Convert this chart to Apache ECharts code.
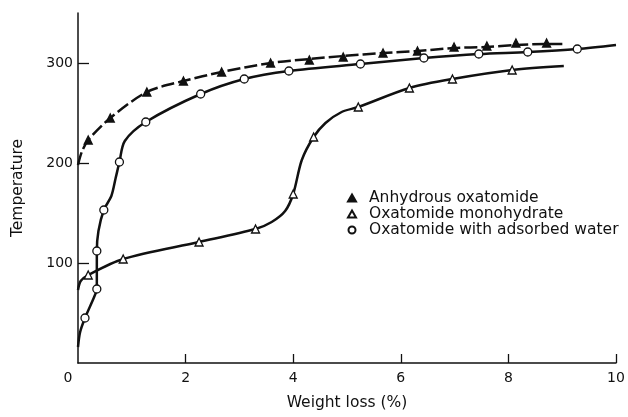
<!DOCTYPE html>
<html>
<head>
<meta charset="utf-8">
<script src="https://cdn.jsdelivr.net/npm/echarts@6/dist/echarts.min.js"></script>
<style>
  html, body { margin: 0; padding: 0; background: #fff; }
  #chart { width: 628px; height: 417px; }
</style>
</head>
<body>
<div id="chart"></div>
<script>
// tick labels
const xTicks = [0, 2, 4, 6, 8, 10]
const yTicks = [100, 200, 300]

// series names
const names = ['Anhydrous oxatomide', 'Oxatomide monohydrate', 'Oxatomide with adsorbed water']

// measured points (weight loss %, temperature)
const anhydrousPts = [[0.19, 223], [0.6, 245], [1.28, 271], [1.96, 282], [2.67, 291], [3.58, 300], [4.3, 303],
  [4.93, 306], [5.67, 310], [6.31, 312], [6.99, 316], [7.6, 317], [8.14, 320], [8.71, 320]]
const monohydratePts = [[0.19, 88], [0.84, 104], [2.25, 121], [3.3, 134], [4.0, 169], [4.38, 226], [5.21, 256],
  [6.16, 275], [6.96, 284], [8.07, 293]]
const adsorbedPts = [[0.13, 45], [0.35, 74], [0.35, 112], [0.48, 153], [0.77, 201], [1.26, 241], [2.28, 269],
  [3.09, 284], [3.92, 292], [5.25, 299], [6.43, 305], [7.45, 309], [8.36, 311], [9.28, 314]]

// drawn curves (pass through the points above)
const anhydrousCurve = [[0, 198], [0.07, 211], [0.19, 223], [0.6, 245], [1.28, 271], [1.96, 282], [2.67, 291],
  [3.58, 300], [4.3, 304], [4.93, 307], [5.67, 310], [6.31, 312], [6.99, 315], [7.6, 316], [8.14, 318], [8.71, 319], [9.05, 319]]
const monohydrateCurve = [[0, 73], [0.05, 82], [0.19, 88], [0.84, 104], [2.25, 121], [3.3, 134], [3.6, 141],
  [3.85, 152], [4.0, 169], [4.16, 203], [4.38, 226], [4.6, 240], [4.9, 251], [5.21, 256], [6.16, 275],
  [6.96, 284], [8.07, 293], [9.03, 297]]
const adsorbedCurve = [[0, 16], [0.04, 31], [0.13, 45], [0.3, 66], [0.35, 74], [0.35, 112], [0.38, 132],
  [0.48, 153], [0.62, 167], [0.7, 185], [0.77, 201], [0.87, 222], [1.26, 241], [2.28, 269], [3.09, 284],
  [3.92, 292], [5.25, 299], [6.43, 305], [7.45, 309], [8.36, 311], [9.28, 314], [10, 318]]

const font = 'DejaVu Sans'
const ink = '#111'

const chart = echarts.init(document.getElementById('chart'))

const curve = (data, dashed) => ({
  type: 'line',
  data: data,
  smooth: 0.3,
  showSymbol: false,
  silent: true,
  lineStyle: { color: ink, width: 2.5, type: dashed ? [13, 4] : 'solid' },
  z: 2
})

const marks = (name, data, symbol, filled) => ({
  name: name,
  type: 'scatter',
  data: data,
  symbol: symbol,
  symbolSize: 8,
  itemStyle: { color: filled ? ink : '#fff', borderColor: ink, borderWidth: 1.3, opacity: 1 },
  z: 3
})

const option = {
  animation: false,
  backgroundColor: '#fff',
  grid: { left: 78, right: 12, top: 13, bottom: 54, outerBoundsMode: 'none' },
  legend: {
    orient: 'vertical',
    left: 342,
    top: 185,
    itemWidth: 8,
    itemHeight: 7,
    itemGap: 0,
    data: names,
    textStyle: { fontFamily: font, fontSize: 15.5, color: ink, lineHeight: 16, padding: [0, 0, 0, 8] }
  },
  xAxis: {
    type: 'value',
    min: 0,
    max: 10,
    interval: 2,
    name: 'Weight loss (%)',
    nameLocation: 'middle',
    nameGap: 32,
    nameTextStyle: { fontFamily: font, fontSize: 15.5, color: ink },
    axisLine: { lineStyle: { color: ink, width: 1.5 } },
    axisTick: { inside: true, length: 9, customValues: xTicks.filter(v => v > 0), lineStyle: { color: ink, width: 1.3 } },
    axisLabel: {
      customValues: xTicks,
      margin: 8,
      fontFamily: font,
      fontSize: 14,
      color: ink,
      formatter: v => v === 0 ? '{z|0}' : String(v),
      rich: { z: { fontFamily: font, fontSize: 14, color: ink, padding: [0, 20, 0, 0] } }
    },
    splitLine: { show: false }
  },
  yAxis: {
    type: 'value',
    min: 0,
    max: 350,
    interval: 100,
    name: 'Temperature',
    nameLocation: 'middle',
    nameGap: 52,
    nameTextStyle: { fontFamily: font, fontSize: 15.5, color: ink },
    axisLine: { lineStyle: { color: ink, width: 1.5 } },
    axisTick: { inside: true, length: 11, customValues: yTicks, lineStyle: { color: ink, width: 1.3 } },
    axisLabel: { customValues: yTicks, margin: 5, fontFamily: font, fontSize: 14, color: ink },
    splitLine: { show: false }
  },
  series: [
    curve(anhydrousCurve, true),
    curve(monohydrateCurve, false),
    curve(adsorbedCurve, false),
    marks(names[0], anhydrousPts, 'triangle', true),
    marks(names[1], monohydratePts, 'triangle', false),
    marks(names[2], adsorbedPts, 'circle', false)
  ]
}

chart.setOption(option)
</script>
</body>
</html>
